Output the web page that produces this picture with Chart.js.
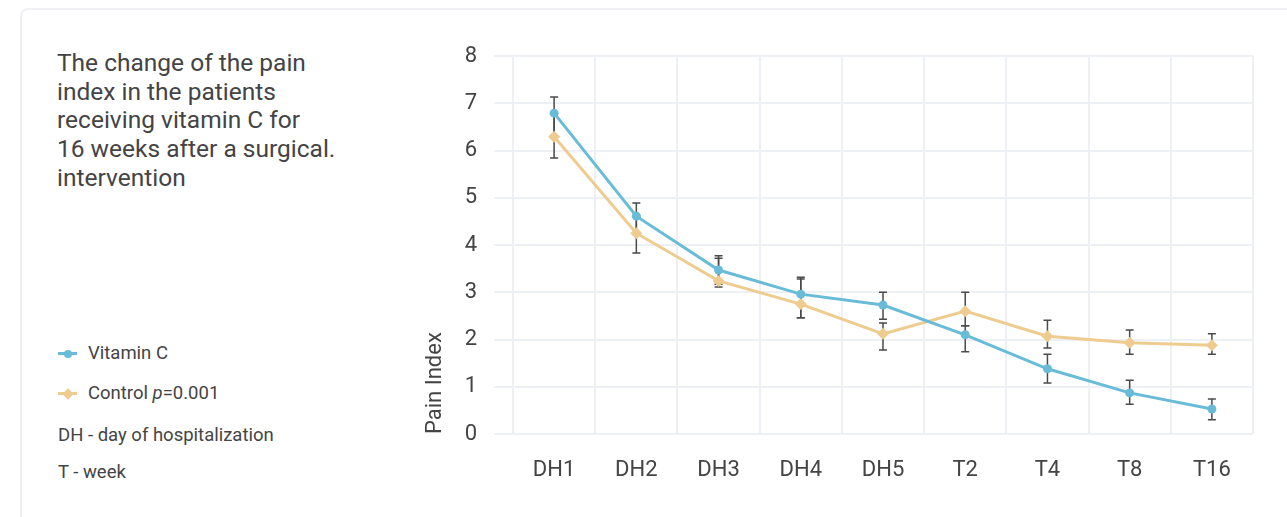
<!DOCTYPE html>
<html>
<head>
<meta charset="utf-8">
<script src="https://cdn.jsdelivr.net/npm/chart.js@4.4.1/dist/chart.umd.min.js"></script>
<style>
  html, body { margin: 0; padding: 0; background: #fff; }
  body { width: 1287px; height: 517px; position: relative; overflow: hidden; font-family: Roboto, "Noto Sans", sans-serif; color: #444; }
  .card { position: absolute; left: 20px; top: 8px; width: 1400px; height: 700px; border: 2px solid #eef0f3; border-radius: 8px; box-sizing: border-box; }
  .title { position: absolute; left: 57px; top: 49px; width: 340px; font-size: 24.5px; line-height: 28.7px; color: #444; white-space: nowrap; }
  .legend-item { position: absolute; left: 58px; height: 22px; line-height: 22px; font-size: 18.5px; color: #444; white-space: nowrap; }
  .mark { display: inline-block; position: relative; width: 19px; height: 22px; vertical-align: top; margin-right: 11px; }
  .mark .ln { position: absolute; left: 0; top: 10px; width: 19px; height: 3px; }
  .mark .dot { position: absolute; left: 5.5px; top: 7.5px; width: 8px; height: 8px; border-radius: 50%; }
  .mark .dia { position: absolute; left: 5.5px; top: 7.5px; width: 8px; height: 8px; transform: rotate(45deg); }
  .wrap { position: absolute; left: 400px; top: 0; width: 887px; height: 517px; }
</style>
</head>
<body>
<div class="card"></div>
<div class="title">The change of the pain<br>index in the patients<br>receiving vitamin C for<br>16 weeks after a surgical.<br>intervention</div>
<div id="legend"></div>
<div class="wrap"><canvas id="painChart"></canvas></div>

<script>
// data
const categories = ["DH1", "DH2", "DH3", "DH4", "DH5", "T2", "T4", "T8", "T16"];
const vitaminC = [6.79, 4.61, 3.47, 2.96, 2.73, 2.10, 1.38, 0.87, 0.53];
const vitaminCErrUp = [0.34, 0.28, 0.30, 0.36, 0.27, 0.19, 0.31, 0.27, 0.21];
const vitaminCErrDown = [0.50, 0.36, 0.30, 0.50, 0.30, 0.36, 0.30, 0.24, 0.23];
const control = [6.29, 4.25, 3.24, 2.75, 2.12, 2.60, 2.07, 1.93, 1.88];
const controlErrUp = [0.50, 0.36, 0.48, 0.53, 0.23, 0.40, 0.34, 0.27, 0.24];
const controlErrDown = [0.45, 0.42, 0.13, 0.29, 0.34, 0.31, 0.25, 0.24, 0.19];
const yTicks = [0, 1, 2, 3, 4, 5, 6, 7, 8];

const blue = "#68bcd8";
const orange = "#eecb8e";
const gridColor = "#edf0f4";
const textColor = "#444";

// ========================================
// LEGEND (html, left column)
// ========================================
document.getElementById("legend").innerHTML = `
  <div class="legend-item" style="top:342px">
    <span class="mark"><span class="ln" style="background:${blue}"></span><span class="dot" style="background:${blue}"></span></span>Vitamin C
  </div>
  <div class="legend-item" style="top:382px">
    <span class="mark"><span class="ln" style="background:${orange}"></span><span class="dia" style="background:${orange}"></span></span>Control <i>p</i>=0.001
  </div>
  <div class="legend-item" style="top:424px">DH - day of hospitalization</div>
  <div class="legend-item" style="top:461px">T - week</div>
`;

// ========================================
// ERROR BARS
// ========================================
const errorBars = {
  id: "errorBars",
  beforeDatasetsDraw(chart) {
    const ctx = chart.ctx;
    const y = chart.scales.y;
    const sets = [
      [vitaminC, vitaminCErrUp, vitaminCErrDown],
      [control, controlErrUp, controlErrDown],
    ];
    ctx.save();
    ctx.strokeStyle = "#4a4a4a";
    ctx.lineWidth = 1.5;
    sets.forEach(([vals, up, down], di) => {
      const meta = chart.getDatasetMeta(di);
      meta.data.forEach((pt, i) => {
        const top = y.getPixelForValue(vals[i] + up[i]);
        const bot = y.getPixelForValue(vals[i] - down[i]);
        ctx.beginPath();
        ctx.moveTo(pt.x, top);
        ctx.lineTo(pt.x, bot);
        ctx.moveTo(pt.x - 4, top);
        ctx.lineTo(pt.x + 4, top);
        ctx.moveTo(pt.x - 4, bot);
        ctx.lineTo(pt.x + 4, bot);
        ctx.stroke();
      });
    });
    ctx.restore();
  },
};

new Chart(document.getElementById("painChart"), {
  type: "line",
  data: {
    labels: categories,
    datasets: [
      {
        label: "Vitamin C",
        data: vitaminC,
        borderColor: blue,
        backgroundColor: blue,
        borderWidth: 3,
        pointStyle: "circle",
        pointRadius: 4.5,
        pointBorderWidth: 0,
        tension: 0,
      },
      {
        label: "Control",
        data: control,
        borderColor: orange,
        backgroundColor: orange,
        borderWidth: 3,
        pointStyle: "rectRot",
        pointRadius: 6,
        pointBorderWidth: 0,
        tension: 0,
      },
    ],
  },
  options: {
    responsive: true,
    maintainAspectRatio: false,
    animation: false,
    layout: { padding: { top: 56, right: 34, bottom: 0, left: 0 } },
    plugins: {
      legend: { display: false },
      tooltip: { enabled: false },
    },
    scales: {
      x: {
        offset: true,
        grid: { offset: true, color: gridColor, lineWidth: 2, drawTicks: false },
        border: { display: false },
        ticks: { color: textColor, font: { family: "Roboto", size: 22 }, padding: 23 },
        afterFit: (scale) => { scale.height = 83; },
      },
      y: {
        min: 0,
        max: 8,
        afterBuildTicks: (scale) => { scale.ticks = yTicks.map((v) => ({ value: v })); },
        grid: { color: gridColor, lineWidth: 2, tickLength: 19, tickColor: gridColor },
        border: { display: false },
        ticks: { color: textColor, font: { family: "Roboto", size: 22 }, padding: 17 },
        title: {
          display: true,
          text: "Pain Index",
          align: "start",
          color: textColor,
          font: { family: "Roboto", size: 22 },
          padding: { top: 22, bottom: 0 },
        },
        afterFit: (scale) => { scale.width = 113; },
      },
    },
  },
  plugins: [errorBars],
});
</script>
</body>
</html>
